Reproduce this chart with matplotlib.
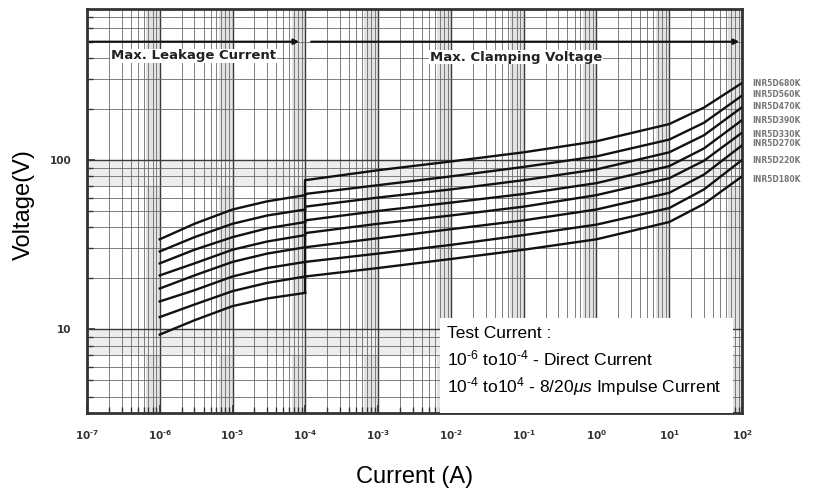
import matplotlib.pyplot as plt
from matplotlib.patches import Rectangle
from matplotlib.ticker import FixedLocator, FixedFormatter, LogLocator, NullFormatter

plt.rcParams['font.family'] = ['Liberation Sans', 'DejaVu Sans']
plt.rcParams['mathtext.fontset'] = 'custom'
plt.rcParams['mathtext.rm'] = 'Liberation Sans'
plt.rcParams['mathtext.it'] = 'Liberation Sans:italic'
plt.rcParams['mathtext.default'] = 'regular'

# Varistor V-I curves (INR5D series)
models = ['INR5D180K', 'INR5D220K', 'INR5D270K', 'INR5D330K',
          'INR5D390K', 'INR5D470K', 'INR5D560K', 'INR5D680K']
label_volts = [77, 99, 126, 142, 170, 208, 245, 283]

current_dc = [1e-6, 3e-6, 1e-5, 3e-5, 1e-4]
current_pulse = [1e-4, 1e-3, 1e-2, 1e-1, 1, 10, 30, 100]

dc_voltage = [
    [9.3, 11.3, 13.7, 15.2, 16.4],
    [11.8, 14.0, 16.8, 18.8, 20.5],
    [14.6, 17.0, 20.5, 23.0, 25.0],
    [17.4, 20.8, 25.0, 28.0, 30.5],
    [20.8, 24.5, 29.5, 33.0, 36.0],
    [24.5, 29.5, 35.0, 39.5, 43.0],
    [28.8, 35.0, 42.0, 47.0, 51.0],
    [34.0, 42.0, 51.0, 57.0, 62.0],
]
pulse_voltage = [
    [20.5, 23, 26, 29.5, 34, 43, 55, 80],
    [25, 28, 31.5, 36, 41.5, 52, 67, 100],
    [30.5, 34.5, 39, 44, 51, 64, 82, 122],
    [37, 42, 47, 53, 62, 78, 99, 145],
    [44, 50, 56, 63, 73, 92, 117, 172],
    [53, 60, 67, 76, 88, 111, 140, 205],
    [63, 71, 80, 91, 105, 132, 166, 240],
    [76, 87, 98, 111, 129, 163, 204, 285],
]

x_ticks = [1e-7, 1e-6, 1e-5, 1e-4, 1e-3, 1e-2, 1e-1, 1, 10, 100]
x_labels = ['10$^{\u2010' + str(-k) + '}$' if k < 0 else '10$^{' + str(k) + '}$'
            for k in range(-7, 3)]

fig = plt.figure(figsize=(8.19, 5.0), dpi=100)
ax = fig.add_axes([0.1062, 0.174, 0.7998, 0.808])
ax.set_xscale('log')
ax.set_yscale('log')
ax.set_xlim(1e-7, 1e2)
ax.set_ylim(3.2, 780)

# shaded bands of the log paper
for k in range(-7, 2):
    ax.axvspan(6.5 * 10.0**k, 10.0**(k + 1), color='#e2e2e2', lw=0, zorder=0)
for k in range(0, 3):
    ax.axhspan(0.7 * 10.0**k, 10.0**k, color='#ededed', lw=0, zorder=0)

ax.xaxis.set_major_locator(FixedLocator(x_ticks))
ax.xaxis.set_major_formatter(FixedFormatter(x_labels))
ax.xaxis.set_minor_locator(LogLocator(base=10, subs=range(2, 10), numticks=20))
ax.xaxis.set_minor_formatter(NullFormatter())
ax.yaxis.set_major_locator(FixedLocator([10, 100]))
ax.yaxis.set_major_formatter(FixedFormatter(['10', '100']))
ax.yaxis.set_minor_locator(LogLocator(base=10, subs=range(2, 10), numticks=20))
ax.yaxis.set_minor_formatter(NullFormatter())

ax.grid(which='major', color='#3a3a3a', lw=1.0, zorder=1)
ax.grid(which='minor', color='#6a6a6a', lw=0.6, zorder=1)
ax.set_axisbelow(True)

ax.tick_params(which='both', direction='in', top=False, right=False,
               labelsize=7.5, colors='#333333', pad=11)
ax.tick_params(which='major', length=6, width=1.2)
ax.tick_params(which='minor', length=4, width=1.0)
for lab in ax.get_xticklabels() + ax.get_yticklabels():
    lab.set_fontweight('bold')
    lab.set_family(['DejaVu Sans'])
for sp in ax.spines.values():
    sp.set_linewidth(2.0)
    sp.set_color('#333333')

for i in range(len(models)):
    ax.plot(current_dc, dc_voltage[i], color='#111111', lw=1.7, zorder=3)
    ax.plot(current_pulse, pulse_voltage[i], color='#111111', lw=1.7, zorder=3)
    ax.text(1.015, label_volts[i], models[i], transform=ax.get_yaxis_transform(),
            fontsize=5.5, fontweight='bold', color='#777777', va='center', ha='left',
            family=['DejaVu Sans'], clip_on=False)
ax.vlines(1e-4, dc_voltage[0][-1], pulse_voltage[-1][0], color='#111111', lw=1.7, zorder=3)

# region arrows and captions
ax.annotate('', xy=(9e-5, 500), xytext=(1e-7, 500),
            arrowprops=dict(arrowstyle='-|>', color='#111111', lw=1.5, mutation_scale=8))
ax.annotate('', xy=(1e2, 500), xytext=(1.1e-4, 500),
            arrowprops=dict(arrowstyle='-|>', color='#111111', lw=1.5, mutation_scale=8))
ax.text(2.14e-7, 412, 'Max. Leakage Current', fontsize=9.5, fontweight='bold',
        color='#222222', va='center', ha='left', zorder=4, family=['DejaVu Sans'],
        bbox=dict(facecolor='white', edgecolor='none', pad=0.5))
ax.text(5.1e-3, 405, 'Max. Clamping Voltage', fontsize=9.5, fontweight='bold',
        color='#222222', va='center', ha='left', zorder=4, family=['DejaVu Sans'],
        bbox=dict(facecolor='white', edgecolor='none', pad=0.5))

# test current note
ax.add_patch(Rectangle((0.539, 0.0), 0.447, 0.235, transform=ax.transAxes,
                       facecolor='white', edgecolor='none', zorder=5))
note_lines = ['Test Current :',
              '10$^{\u20106}$ to10$^{\u20104}$ - Direct Current',
              '10$^{\u20104}$ to10$^{4}$ - 8/20$\\it{\\mu s}$ Impulse Current']
for line, yy in zip(note_lines, [0.198, 0.134, 0.066]):
    ax.text(0.55, yy, line, transform=ax.transAxes, fontsize=12.5, va='center',
            ha='left', zorder=6)

ax.set_xlabel('Current (A)', fontsize=17)
ax.set_ylabel('Voltage(V)', fontsize=17)
ax.xaxis.set_label_coords(0.5, -0.13)
ax.yaxis.set_label_coords(-0.08, 0.515)

fig.savefig('out.png', dpi=100)
